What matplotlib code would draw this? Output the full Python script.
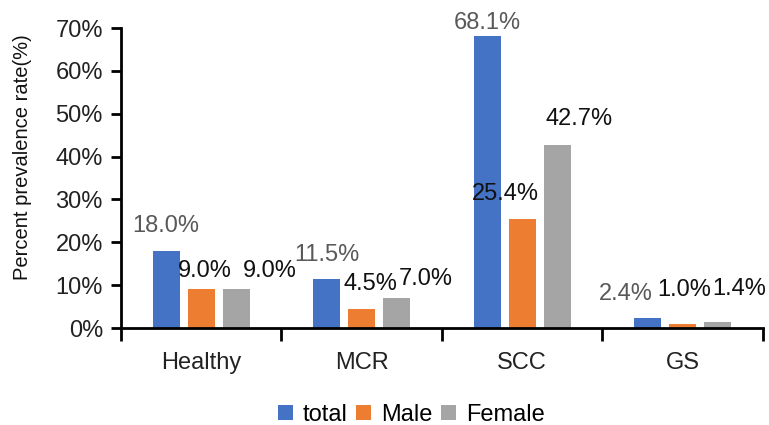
import matplotlib
matplotlib.use("Agg")
import matplotlib.pyplot as plt
import numpy as np
from matplotlib.ticker import FuncFormatter

plt.rcParams['font.family'] = ['Liberation Sans', 'DejaVu Sans']

categories = ["Healthy", "MCR", "SCC", "GS"]
series_names = ["total", "Male", "Female"]
total = [18.0, 11.5, 68.1, 2.4]
male = [9.0, 4.5, 25.4, 1.0]
female = [9.0, 7.0, 42.7, 1.4]
y_ticks = [0, 10, 20, 30, 40, 50, 60, 70]

colors = ["#4472C4", "#ED7D31", "#A5A5A5"]
label_colors = ["#595959", "#111111", "#111111"]

# label nudges in pixels (dx, dy above bar top) so neighbouring labels don't collide
label_offsets = [
    [(0, 25), (4, 18), (34, 18)],
    [(0, 24), (9, 25), (29, 19)],
    [(0, 13), (-17, 25), (22, 26)],
    [(-22, 24), (1, 34), (21, 33)],
]

FS = 17

fig = plt.figure(figsize=(7.69, 4.25), dpi=100)
ax = fig.add_axes([0.1573, 0.2282, 0.8349, 0.7059])

x = np.arange(len(categories))
width = 0.17
step = 0.218
data = [total, male, female]
for i, (vals, name, c) in enumerate(zip(data, series_names, colors)):
    pos = x + (i - 1) * step
    ax.bar(pos, vals, width, color=c, label=name, zorder=2)
    for j, (px, v) in enumerate(zip(pos, vals)):
        dx, dy = label_offsets[j][i]
        ax.annotate(f"{v:.1f}%", xy=(px, v), xytext=(dx, dy),
                    textcoords="offset pixels", ha="center", va="center",
                    fontsize=FS, color=label_colors[i])

ax.set_xlim(-0.5, len(categories) - 0.5)
ax.set_ylim(0, 70)
ax.set_yticks(y_ticks)
ax.yaxis.set_major_formatter(FuncFormatter(lambda v, p: f"{v:.0f}%"))
ax.set_xticks(np.arange(-0.5, len(categories)), minor=False)
ax.set_xticklabels([])
ax.set_xticks(x, minor=True)
ax.set_xticklabels(categories, minor=True)
ax.tick_params(axis="x", which="major", length=9, width=2, direction="out")
ax.tick_params(axis="x", which="minor", length=0, pad=17, labelsize=FS, labelcolor="#222222")
ax.tick_params(axis="y", length=7, width=2, labelsize=FS, labelcolor="#222222", pad=6)

for s in ["top", "right"]:
    ax.spines[s].set_visible(False)
for s in ["left", "bottom"]:
    ax.spines[s].set_linewidth(2)
    ax.spines[s].set_color("black")

ax.set_ylabel("Percent prevalence rate(%)", fontsize=14.5, color="#111111")
ax.yaxis.set_label_coords(-0.139, 0.571)

fig.legend(loc="center", bbox_to_anchor=(0.535, 0.024), ncol=3, frameon=False,
           fontsize=FS, handlelength=0.64, handleheight=0.64, handletextpad=0.42,
           columnspacing=0.36, borderpad=0.1)

fig.savefig("out.png", dpi=100)
